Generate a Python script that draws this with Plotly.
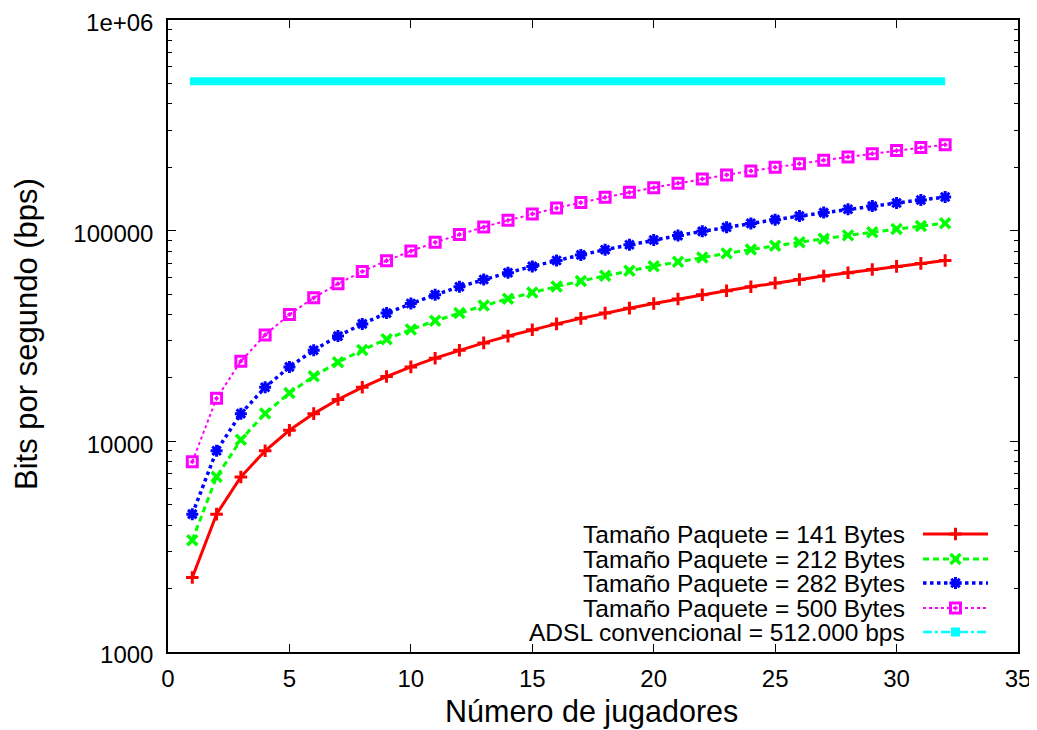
import plotly.graph_objects as go

jugadores = list(range(1, 33))
bps_141 = [2256, 4512, 6768, 9024, 11280, 13536, 15792, 18048, 20304, 22560,
           24816, 27072, 29328, 31584, 33840, 36096, 38352, 40608, 42864, 45120,
           47376, 49632, 51888, 54144, 56400, 58656, 60912, 63168, 65424, 67680,
           69936, 72192]
bps_212 = [3392, 6784, 10176, 13568, 16960, 20352, 23744, 27136, 30528, 33920,
           37312, 40704, 44096, 47488, 50880, 54272, 57664, 61056, 64448, 67840,
           71232, 74624, 78016, 81408, 84800, 88192, 91584, 94976, 98368, 101760,
           105152, 108544]
bps_282 = [4512, 9024, 13536, 18048, 22560, 27072, 31584, 36096, 40608, 45120,
           49632, 54144, 58656, 63168, 67680, 72192, 76704, 81216, 85728, 90240,
           94752, 99264, 103776, 108288, 112800, 117312, 121824, 126336, 130848, 135360,
           139872, 144384]
bps_500 = [8000, 16000, 24000, 32000, 40000, 48000, 56000, 64000, 72000, 80000,
           88000, 96000, 104000, 112000, 120000, 128000, 136000, 144000, 152000, 160000,
           168000, 176000, 184000, 192000, 200000, 208000, 216000, 224000, 232000, 240000,
           248000, 256000]
adsl_x = [0.9, 32]
bps_adsl = [512000, 512000]

names = ["Tamaño Paquete = 141 Bytes", "Tamaño Paquete = 212 Bytes",
         "Tamaño Paquete = 282 Bytes", "Tamaño Paquete = 500 Bytes",
         "ADSL convencional = 512.000 bps"]
y_tickvals = [1000, 10000, 100000, 1000000]
y_ticktext = ["1000", "10000", "100000", "1e+06"]
x_tickvals = [0, 5, 10, 15, 20, 25, 30, 35]

FONT = "Liberation Sans, Arial, Helvetica, sans-serif"

styles = [
    dict(color="#ff0000", dash="solid", width=3, symbol="cross-thin-open", msize=9, mlw=3),
    dict(color="#00ff00", dash="6px,4px", width=3, symbol="x-thin-open", msize=10, mlw=3.5),
    dict(color="#0000ff", dash="dot", width=3.5, symbol="asterisk-open", msize=10, mlw=3),
    dict(color="#ff00ff", dash="dot", width=2, symbol="square-open-dot", msize=10, mlw=3),
    dict(color="#00ffff", dash="dashdot", width=8, symbol="square", msize=9, mlw=0),
]
series = [bps_141, bps_212, bps_282, bps_500]

fig = go.Figure()

fig.add_trace(go.Scatter(x=adsl_x, y=bps_adsl, mode="lines",
                         line=dict(color="#00ffff", width=8), name=names[4],
                         showlegend=False))
for s, ys, nm in zip(styles[:4], series, names[:4]):
    fig.add_trace(go.Scatter(
        x=jugadores, y=ys, mode="lines+markers", name=nm, showlegend=False,
        line=dict(color=s["color"], width=s["width"], dash=s["dash"]),
        marker=dict(symbol=s["symbol"], size=s["msize"], color=s["color"],
                    line=dict(color=s["color"], width=s["mlw"]))))

# gnuplot-style key (text right-aligned, sample on right), in pixel overlay axes
row_y = [534, 559, 583, 608, 632]
for i, (s, nm) in enumerate(zip(styles, names)):
    lw = s["width"] if i < 4 else 2.5
    fig.add_trace(go.Scatter(
        x=[923, 988], y=[row_y[i], row_y[i]], xaxis="x2", yaxis="y2",
        mode="lines", showlegend=False, hoverinfo="skip",
        line=dict(color=s["color"], width=lw, dash=s["dash"])))
    fig.add_trace(go.Scatter(
        x=[955.5], y=[row_y[i]], xaxis="x2", yaxis="y2",
        mode="markers", showlegend=False, hoverinfo="skip",
        marker=dict(symbol=s["symbol"], size=s["msize"], color=s["color"],
                    line=dict(color=s["color"], width=s["mlw"]))))
    fig.add_annotation(x=907, y=row_y[i], xref="x2", yref="y2", text=nm,
                       showarrow=False, xanchor="right", yanchor="middle",
                       font=dict(family=FONT, size=24.5, color="black"))

# axis titles (paper coordinates)
fig.add_annotation(x=0.4988, y=-0.0949, xref="paper", yref="paper",
                   text="Número de jugadores",
                   showarrow=False, xanchor="center", yanchor="middle",
                   font=dict(family=FONT, size=30.5, color="black"))
fig.add_annotation(x=(26 - 168) / 850, y=(652 - 334) / 632, xref="paper", yref="paper",
                   text="Bits por segundo (bps)",
                   showarrow=False, xanchor="center", yanchor="middle", textangle=-90,
                   font=dict(family=FONT, size=31, color="black"))

minor_vals = []
for dec in [1000, 10000, 100000]:
    minor_vals += [dec * k for k in range(2, 10)]

fig.update_layout(
    width=1029, height=722,
    margin=dict(l=160, r=19, t=12, b=78, autoexpand=False),
    paper_bgcolor="white", plot_bgcolor="white",
    font=dict(family=FONT, size=24, color="black"),
    xaxis=dict(range=[0, 35], tickvals=x_tickvals, ticks="inside", ticklen=8,
               tickwidth=1.2, tickcolor="black", showline=True, linecolor="black",
               linewidth=1.5, mirror="ticks", showgrid=False, zeroline=False,
               automargin=False, ticklabelstandoff=4, ticklabeloverflow="allow",
               tickfont=dict(size=24)),
    yaxis=dict(type="log", range=[2.99999, 6.00001], tickvals=y_tickvals, ticktext=y_ticktext,
               ticks="inside", ticklen=8, tickwidth=1.2, tickcolor="black",
               showline=True, linecolor="black", linewidth=1.5, mirror="ticks",
               showgrid=False, zeroline=False, automargin=False, ticklabelstandoff=8,
               ticklabeloverflow="allow", ticklabelshift=3,
               minor=dict(tickvals=minor_vals, ticks="inside", ticklen=4,
                          tickcolor="black", tickwidth=1, showgrid=False),
               tickfont=dict(size=24)),
    xaxis2=dict(range=[168, 1018], overlaying="x", visible=False, fixedrange=True),
    yaxis2=dict(range=[652, 20], overlaying="y", visible=False, fixedrange=True),
)

fig.write_html("out.html")
